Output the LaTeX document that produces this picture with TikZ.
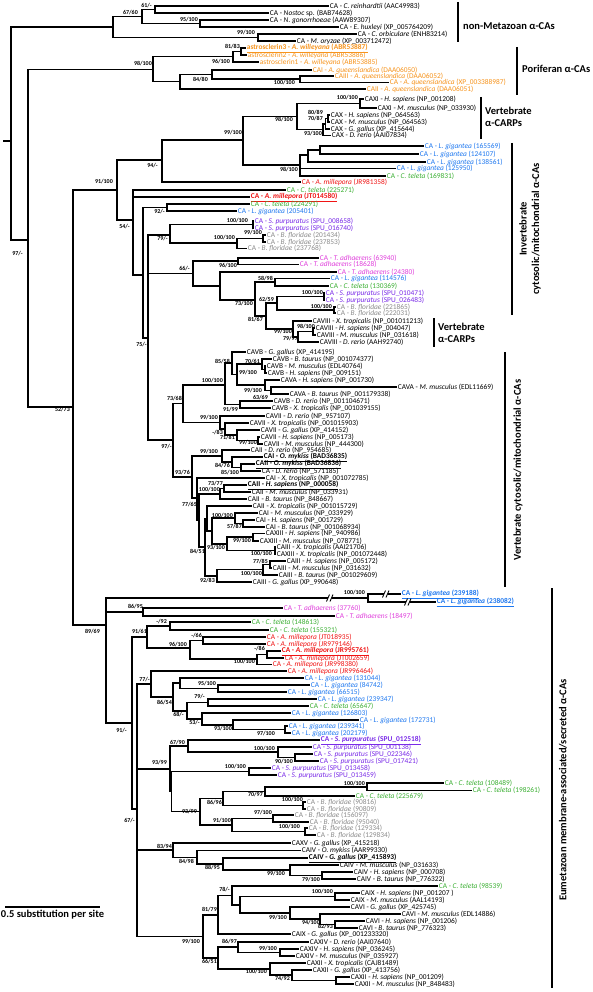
\documentclass[tikz,border=0pt]{standalone}
\usepackage{fontspec}
\setmainfont{Carlito}
\definecolor{cor}{HTML}{F7941D}
\definecolor{cbl}{HTML}{1E78F0}
\definecolor{cgr}{HTML}{3CB034}
\definecolor{crd}{HTML}{F01414}
\definecolor{cpu}{HTML}{7A2BE8}
\definecolor{cgy}{HTML}{8C8C8C}
\definecolor{cmg}{HTML}{E040DC}
\newcounter{bsc}
\tikzset{
  br/.style={line width=1.25pt},
  lab/.style={font=\fontsize{7.4}{8}\selectfont, inner sep=0.7pt},
  bsl/.style={font=\bfseries\fontsize{6}{7}\selectfont, inner sep=0pt},
  clab/.style={font=\bfseries\fontsize{10.5}{12.5}\selectfont, inner sep=0pt},
  cbar/.style={line width=2.6pt}
}
\newcommand\IN[4]{\coordinate (#1) at (#3,#4); \draw[br] (#2) |- (#1);}
\newcommand\LF[6]{\node[lab,text=#5,anchor=west] (#1) at (#3,#4) {#6}; \draw[br] (#2) |- (#1.west);}
\newcommand\bs[3]{\stepcounter{bsc}\node[bsl,anchor=east] (bs\arabic{bsc}) at (#1,#2) {#3};}
\newcommand\brk[3]{\coordinate (#1) at (#2,#3);
  \fill[white] ([xshift=-1.2pt,yshift=-1.5pt]#1) rectangle ([xshift=2.8pt,yshift=1.5pt]#1);
  \draw[line width=0.9pt] ([xshift=-2.5pt,yshift=-3.5pt]#1) -- ([xshift=0.5pt,yshift=3.5pt]#1);
  \draw[line width=0.9pt] ([xshift=1pt,yshift=-3.5pt]#1) -- ([xshift=4pt,yshift=3.5pt]#1);}
\begin{document}
\begin{tikzpicture}[x=1pt,y=-1pt]
\fill[white] (0,0) rectangle (592,992);
\useasboundingbox (0,0) rectangle (592,992);
% root
\coordinate (R) at (11,141); \coordinate (R0) at (3,141); \draw[br] (R0) -- (R);
% non-metazoan
\IN{NM}{R}{113}{27}
\IN{N1}{NM}{142}{16.5}
\IN{N2}{N1}{155}{9.5}
\LF{l1}{N2}{329}{6}{black}{CA - \textit{C. reinhardtii} (AAC49983)}
\LF{l2}{N2}{269}{13}{black}{CA - \textit{Nostoc} sp. (BAB74628)}
\IN{N3}{N1}{200}{23.5}
\LF{l3}{N3}{269}{20}{black}{CA - \textit{N. gonorrhoeae} (AAW89307)}
\LF{l4}{N3}{339}{27}{black}{CA - \textit{E. huxleyi} (XP\_005764209)}
\IN{N4}{NM}{258}{37.5}
\LF{l5}{N4}{357}{34}{black}{CA - \textit{C. orbiculare} (ENH83214)}
\LF{l6}{N4}{296}{41}{black}{CA - \textit{M. oryzae} (XP\_003712472)}
% poriferan
\IN{A}{R}{28}{240}
\IN{P}{A}{153}{69.25}
\IN{AS}{P}{233}{56.75}
\IN{AS2}{AS}{241}{51.5}
\LF{l7}{AS2}{246}{48}{cor}{\bfseries\underline{astrosclerin3 - \textit{A. willeyana} (ABR53887)}}
\LF{l8}{AS2}{247}{55}{cor}{astrosclerin2 - \textit{A. willeyana} (ABR53886)}
\LF{l9}{AS}{259}{62}{cor}{astrosclerin1 - \textit{A. willeyana} (ABR53885)}
\IN{Q}{P}{180}{81.75}
\IN{Q1}{Q}{212}{74.5}
\LF{l10}{Q1}{312}{70}{cor}{CAI - \textit{A. queenslandica} (DAA06050)}
\IN{Q2}{Q1}{300}{79}
\LF{l11}{Q2}{334}{76}{cor}{CAIII - \textit{A. queenslandica} (DAA06052)}
\LF{l12}{Q2}{389}{82.5}{cor}{CA - \textit{A. queenslandica} (XP\_003388987)}
\LF{l13}{Q}{366}{89}{cor}{CAII - \textit{A. queenslandica} (DAA06051)}
% CARPs and invertebrates
\IN{B}{A}{73}{407}
\IN{C}{B}{117}{190}
\IN{D}{C}{162}{160}
\IN{CR}{D}{243}{140}
\IN{CX}{CR}{297}{116.5}
\IN{CXI}{CX}{360}{103.5}
\LF{l14}{CXI}{364}{99}{black}{CAXI - \textit{H. sapiens} (NP\_001208)}
\LF{l15}{CXI}{377}{108}{black}{CAXI - \textit{M. musculus} (NP\_033930)}
\IN{CX10}{CX}{323}{129.5}
\IN{C87}{CX10}{325.5}{124}
\IN{C89}{C87}{328}{118.5}
\LF{l16}{C89}{330}{115}{black}{CAX - \textit{H. sapiens} (NP\_064563)}
\LF{l17}{C89}{330}{122}{black}{CAX - \textit{M. musculus} (NP\_064563)}
\LF{l18}{C87}{330}{129}{black}{CAX - \textit{G. gallus} (XP\_415644)}
\LF{l19}{CX10}{331}{135.5}{black}{CAX - \textit{D. rerio} (AAI07834)}
\IN{LG}{CR}{300}{165}
\IN{LGa}{LG}{308}{155}
\IN{LGb}{LGa}{320}{150}
\LF{l20}{LGb}{424}{146}{cbl}{CA - \textit{L. gigantea} (165569)}
\LF{l21}{LGb}{419}{154}{cbl}{CA - \textit{L. gigantea} (124107)}
\LF{l22}{LGa}{426}{162}{cbl}{CA - \textit{L. gigantea} (138561)}
\LF{l23}{LG}{396}{168.5}{cbl}{CA - \textit{L. gigantea} (125950)}
\LF{l24}{LG}{386}{176}{cgr}{CA - \textit{C. teleta} (169831)}
\LF{l25}{D}{301}{182}{crd}{CA - \textit{A. millepora} (JR981358)}
\IN{F}{C}{133}{220}
\LF{l26}{F}{286}{190}{cgr}{CA - \textit{C. teleta} (225271)}
\LF{l27}{F}{250}{197}{crd}{\bfseries\underline{CA - \textit{A. millepora} (JT014580)}}
\IN{G}{F}{143}{275}
\IN{G1}{G}{167}{207.5}
\LF{l28}{G1}{250}{204}{cgr}{CA - \textit{C. teleta} (224291)}
\LF{l29}{G1}{237}{211}{cbl}{CA - \textit{L. gigantea} (205401)}
\IN{H}{G}{148}{338}
\IN{H1}{H}{170}{235}
\IN{S1}{H1}{253}{224.5}
\LF{l30}{S1}{254}{221}{cpu}{CA - \textit{S. purpuratus} (SPU\_008658)}
\LF{l31}{S1}{254}{228}{cpu}{CA - \textit{S. purpuratus} (SPU\_016740)}
\IN{B1}{H1}{237}{243}
\IN{B2}{B1}{263}{238.5}
\LF{l32}{B2}{266}{235}{cgy}{CA - \textit{B. floridae} (201434)}
\LF{l33}{B2}{266}{242}{cgy}{CA - \textit{B. floridae} (237853)}
\LF{l34}{B1}{247}{248.5}{cgy}{CA - \textit{B. floridae} (237768)}
\IN{H66}{H}{193}{273.5}
\IN{T1}{H66}{238}{261}
\LF{l35}{T1}{319}{258}{cmg}{CA - \textit{T. adhaerens} (63940)}
\LF{l36}{T1}{299}{264.5}{cmg}{CA - \textit{T. adhaerens} (18628)}
\IN{T2}{H66}{220}{286}
\LF{l37}{T2}{337}{272}{cmg}{CA - \textit{T. adhaerens} (24380)}
\IN{T3}{T2}{255}{300}
\IN{T4}{T3}{275}{282}
\LF{l38}{T4}{330}{278.5}{cbl}{CA - \textit{L. gigantea} (114576)}
\LF{l39}{T4}{329}{286}{cgr}{CA - \textit{C. teleta} (130369)}
\IN{T5}{T3}{266}{316}
\IN{T6}{T5}{277}{303}
\IN{S2}{T6}{324}{296.5}
\LF{l40}{S2}{325}{293}{cpu}{CA - \textit{S. purpuratus} (SPU\_010471)}
\LF{l41}{S2}{325}{300}{cpu}{CA - \textit{S. purpuratus} (SPU\_026483)}
\IN{B3}{T6}{334}{310}
\LF{l42}{B3}{336}{307}{cgy}{CA - \textit{B. floridae} (221865)}
\LF{l43}{B3}{336}{313}{cgy}{CA - \textit{B. floridae} (222031)}
\IN{T7}{T5}{293}{329}
\LF{l44}{T7}{312}{321}{black}{CAVIII - \textit{X. tropicalis} (NP\_001011213)}
\IN{T8}{T7}{298}{337}
\IN{T9}{T8}{313}{331.5}
\LF{l45}{T9}{315}{328}{black}{CAVIII - \textit{H. sapiens} (NP\_004047)}
\LF{l46}{T9}{316}{335}{black}{CAVIII - \textit{M. musculus} (NP\_031618)}
\LF{l47}{T8}{319}{342}{black}{CAVIII - \textit{D. rerio} (AAH92740)}
% vertebrate cytosolic
\IN{H2}{H}{173}{440}
\IN{V}{H2}{183}{403.75}
\IN{V5}{V}{225}{385}
\IN{V6}{V5}{232}{363}
\LF{l48}{V6}{246}{352}{black}{CAVB - \textit{G. gallus} (XP\_414195)}
\IN{V8}{V6}{237}{374.5}
\IN{V9}{V8}{262}{364}
\LF{l49}{V9}{272}{359}{black}{CAVB - \textit{B. taurus} (NP\_001074377)}
\IN{V9b}{V9}{265}{369.5}
\LF{l50}{V9b}{266}{366}{black}{CAVB - \textit{M. musculus} (EDL40764)}
\LF{l51}{V9b}{267}{373}{black}{CAVB - \textit{H. sapiens} (NP\_009151)}
\IN{VA1}{V8}{265}{385}
\LF{l52}{VA1}{280}{380}{black}{CAVA - \textit{H. sapiens} (NP\_001730)}
\IN{VA2}{VA1}{271}{390.5}
\LF{l53}{VA2}{397}{387}{black}{CAVA - \textit{M. musculus} (EDL11669)}
\LF{l54}{VA2}{289}{394}{black}{CAVA - \textit{B. taurus} (NP\_001179338)}
\IN{V7b}{V5}{240}{404.5}
\LF{l55}{V7b}{273}{401}{black}{CAVB - \textit{D. rerio} (NP\_001104671)}
\LF{l56}{V7b}{271}{408}{black}{CAVB - \textit{X. tropicalis} (NP\_001039155)}
\IN{V7}{V}{220}{422.5}
\LF{l57}{V7}{265}{416}{black}{CAVII - \textit{D. rerio} (NP\_957107)}
\IN{V83}{V7}{225}{429}
\LF{l58}{V83}{249}{423}{black}{CAVII - \textit{X. tropicalis} (NP\_001015903)}
\IN{V71}{V83}{237}{435}
\LF{l59}{V71}{260}{430}{black}{CAVII - \textit{G. gallus} (XP\_414152)}
\IN{V99}{V71}{258}{440.5}
\LF{l60}{V99}{260}{437}{black}{CAVII - \textit{H. sapiens} (NP\_005173)}
\LF{l61}{V99}{263}{444}{black}{CAVII - \textit{M. musculus} (NP\_444300)}
\IN{W}{H2}{192}{477}
\IN{W1}{W}{222}{456}
\LF{l62}{W1}{250}{450}{black}{CAII - \textit{D. rerio} (NP\_954685)}
\IN{W3}{W1}{232}{462}
\LF{l63}{W3}{263}{457}{black}{\bfseries\underline{CAI - \textit{O. mykiss} (BAD36835)}}
\IN{W4}{W3}{241}{467.5}
\LF{l64}{W4}{255}{464}{black}{\bfseries\underline{CAII - \textit{O. mykiss} (BAD36836)}}
\LF{l65}{W4}{261}{471}{black}{CA - \textit{D. rerio} (NP\_571185)}
\IN{W2}{W}{197}{498}
\LF{l66}{W2}{265}{478}{black}{CAI - \textit{X. tropicalis} (NP\_001072785)}
\IN{W2b}{W2}{199}{520.5}
\IN{C2a}{W2b}{220}{494}
\IN{C77}{C2a}{224}{488.5}
\LF{l67}{C77}{247}{485}{black}{\bfseries\underline{CAII - \textit{H. sapiens} (NP\_000058)}}
\LF{l68}{C77}{251}{492}{black}{CAII - \textit{M. musculus} (NP\_033931)}
\LF{l69}{C2a}{247}{499}{black}{CAII - \textit{B. taurus} (NP\_848667)}
\IN{C3}{W2b}{205}{547}
\IN{C3a}{C3}{207}{518.5}
\LF{l70}{C3a}{252}{506}{black}{CAII - \textit{X. tropicalis} (NP\_001015729)}
\IN{NI}{C3a}{212}{531}
\IN{CAI}{NI}{235}{518}
\LF{l71}{CAI}{258}{513}{black}{CAI - \textit{M. musculus} (NP\_033929)}
\IN{C57}{CAI}{243}{523.5}
\LF{l72}{C57}{255}{520}{black}{CAI - \textit{H. sapiens} (NP\_001729)}
\LF{l73}{C57}{265}{527}{black}{CAI - \textit{B. taurus} (NP\_001068934)}
\IN{N93}{NI}{227}{544}
\IN{N99}{N93}{253}{537}
\LF{l74}{N99}{265}{533.5}{black}{CAXIII - \textit{H. sapiens} (NP\_940986)}
\LF{l75}{N99}{259}{541}{black}{CAXIII - \textit{M. musculus} (NP\_078771)}
\IN{N100}{N93}{275}{550.5}
\LF{l76}{N100}{276}{547}{black}{CAIII - \textit{X. tropicalis} (AAI21706)}
\LF{l77}{N100}{276}{554}{black}{CAXIII - \textit{X. tropicalis} (NP\_001072448)}
\IN{N92}{C3}{217}{576}
\IN{N3100}{N92}{263}{569.75}
\IN{N7785}{N3100}{270}{564.5}
\LF{l78}{N7785}{286}{561}{black}{CAIII - \textit{H. sapiens} (NP\_005172)}
\LF{l79}{N7785}{272}{568}{black}{CAIII - \textit{M. musculus} (NP\_031632)}
\LF{l80}{N3100}{278}{575}{black}{CAIII - \textit{B. taurus} (NP\_001029609)}
\LF{l81}{N92}{252}{582}{black}{CAIII - \textit{G. gallus} (XP\_990648)}
% eumetazoan
\IN{E}{B}{106}{625}
\IN{LG2}{E}{368}{598}
\LF{l82}{LG2}{401}{594}{cbl}{\bfseries\underline{CA - \textit{L. gigantea} (239188)}}
\LF{l83}{LG2}{436}{602}{cbl}{\bfseries\underline{CA - \textit{L. gigantea} (238082)}}
\brk{k1}{329}{598}
\brk{k2}{385}{594}
\brk{k3}{407}{602}
\IN{TA}{E}{143}{612}
\LF{l84}{TA}{283}{608}{cmg}{CA - \textit{T. adhaerens} (37760)}
\LF{l85}{TA}{335}{616}{cmg}{CA - \textit{T. adhaerens} (18497)}
\IN{N91}{E}{132}{723}
\IN{N9161}{N91}{147}{637}
\IN{N92b}{N9161}{170}{626}
\LF{l86}{N92b}{251}{622}{cgr}{CA - \textit{C. teleta} (148613)}
\LF{l87}{N92b}{269}{630}{cgr}{CA - \textit{C. teleta} (155321)}
\IN{AM}{N9161}{190}{648}
\IN{AM1}{AM}{203}{640.5}
\LF{l88}{AM1}{266}{637}{crd}{CA - \textit{A. millepora} (JT018935)}
\LF{l89}{AM1}{266}{644}{crd}{CA - \textit{A. millepora} (JR979146)}
\IN{AM2}{AM}{257}{659}
\IN{AM3}{AM2}{267}{654.5}
\LF{l90}{AM3}{281}{651}{crd}{\bfseries\underline{CA - \textit{A. millepora} (JR995761)}}
\LF{l91}{AM3}{284}{658}{crd}{CA - \textit{A. millepora} (JT002659)}
\LF{l92}{AM2}{272}{664.5}{crd}{CA - \textit{A. millepora} (JR998380)}
\IN{N67}{N91}{137}{809}
\IN{N77}{N67}{151}{684}
\LF{l93}{N77}{287}{671}{crd}{CA - \textit{A. millepora} (JR996464)}
\IN{N86}{N77}{173}{697}
\IN{N86a}{N86}{180}{683}
\LF{l94}{N86a}{304}{678}{cbl}{CA - \textit{L. gigantea} (131044)}
\IN{N95}{N86a}{218}{688.5}
\LF{l95}{N95}{310}{685}{cbl}{CA - \textit{L. gigantea} (84742)}
\LF{l96}{N95}{287}{692}{cbl}{CA - \textit{L. gigantea} (66515)}
\IN{N68}{N86}{187}{711}
\IN{N79}{N68}{208}{702.5}
\LF{l97}{N79}{317}{699}{cbl}{CA - \textit{L. gigantea} (239347)}
\LF{l98}{N79}{309}{706}{cgr}{CA - \textit{C. teleta} (65647)}
\IN{N53}{N68}{202}{719}
\LF{l99}{N53}{291}{713}{cbl}{CA - \textit{L. gigantea} (126803)}
\IN{N93b}{N53}{233}{725}
\LF{l100}{N93b}{359}{720}{cbl}{CA - \textit{L. gigantea} (172731)}
\IN{N97}{N93b}{285}{729.5}
\LF{l101}{N97}{288}{726}{cbl}{CA - \textit{L. gigantea} (239341)}
\LF{l102}{N97}{291}{733}{cbl}{CA - \textit{L. gigantea} (202179)}
\IN{N9399}{N67}{170}{769}
\IN{N6790}{N9399}{188}{746}
\LF{l103}{N6790}{320}{740}{cpu}{\bfseries\underline{CA - \textit{S. purpuratus} (SPU\_012518)}}
\IN{NS1}{N6790}{278}{752}
\LF{l104}{NS1}{312}{747}{cpu}{CA - \textit{S. purpuratus} (SPU\_001138)}
\IN{NS2}{NS1}{295}{757.5}
\LF{l105}{NS2}{313}{754}{cpu}{CA - \textit{S. purpuratus} (SPU\_022346)}
\LF{l106}{NS2}{319}{761}{cpu}{CA - \textit{S. purpuratus} (SPU\_017421)}
\IN{NX}{N9399}{171.5}{791.6}
\IN{NS3}{NX}{249}{771.5}
\LF{l107}{NS3}{271}{768}{cpu}{CA - \textit{S. purpuratus} (SPU\_013458)}
\LF{l108}{NS3}{277}{775}{cpu}{CA - \textit{S. purpuratus} (SPU\_013459)}
\IN{N9399b}{NX}{200}{811.75}
\IN{N8696}{N9399b}{223}{798.5}
\IN{N7097}{N8696}{265}{791.5}
\IN{CT1}{N7097}{367}{787}
\LF{l109}{CT1}{444}{783}{cgr}{CA - \textit{C. teleta} (108489)}
\LF{l110}{CT1}{472}{790.5}{cgr}{CA - \textit{C. teleta} (198261)}
\LF{l111}{N7097}{355}{796}{cgr}{CA - \textit{C. teleta} (225679)}
\IN{BF1}{N8696}{303}{805.5}
\LF{l112}{BF1}{306}{802}{cgy}{CA - \textit{B. floridae} (90816)}
\LF{l113}{BF1}{306}{809}{cgy}{CA - \textit{B. floridae} (90809)}
\IN{N91b}{N9399b}{232}{825}
\IN{N97b}{N91b}{273}{818.5}
\LF{l114}{N97b}{294}{815}{cgy}{CA - \textit{B. floridae} (156097)}
\LF{l115}{N97b}{309}{822}{cgy}{CA - \textit{B. floridae} (95040)}
\IN{BF3}{N91b}{305}{831.5}
\LF{l116}{BF3}{308}{828}{cgy}{CA - \textit{B. floridae} (129334)}
\LF{l117}{BF3}{316}{835}{cgy}{CA - \textit{B. floridae} (129834)}
\IN{N83}{N67}{173}{850}
\LF{l118}{N83}{291}{843}{black}{CAXV - \textit{G. gallus} (XP\_415218)}
\IN{N84}{N83}{197}{857.5}
\LF{l119}{N84}{301}{850.5}{black}{CAIV - \textit{O. mykiss} (AAR99330)}
\IN{N88}{N84}{223}{864}
\LF{l120}{N88}{308}{858}{black}{\bfseries\underline{CAIV - \textit{G. gallus} (XP\_415893)}}
\IN{N99c}{N88}{290}{870}
\LF{l121}{N99c}{339}{865}{black}{CAIV - \textit{M. musculus} (NP\_031633)}
\IN{N79c}{N99c}{322}{875.5}
\LF{l122}{N79c}{353}{872}{black}{CAIV - \textit{H. sapiens} (NP\_000708)}
\LF{l123}{N79c}{356}{879}{black}{CAIV - \textit{B. taurus} (NP\_776322)}
\IN{N9910}{N67}{203}{936.5}
\IN{N8179}{N9910}{218}{915}
\IN{N78}{N8179}{232}{895.5}
\LF{l124}{N78}{438}{886}{cgr}{CA - \textit{C. teleta} (98539)}
\IN{N240}{N78}{240}{905}
\IN{NIX}{N240}{335}{896.5}
\LF{l125}{NIX}{360}{893}{black}{CAIX - \textit{H. sapiens} (NP\_001207 )}
\LF{l126}{NIX}{350}{900}{black}{CAIX - \textit{M. musculus} (AAL14193)}
\IN{NVI}{N240}{290}{913}
\LF{l127}{NVI}{350}{907}{black}{CAVI - \textit{G. gallus} (XP\_425745)}
\IN{NVI2}{NVI}{320}{919}
\LF{l128}{NVI2}{401}{914}{black}{CAVI - \textit{M. musculus} (EDL14886)}
\IN{NVI3}{NVI2}{335}{924.5}
\LF{l129}{NVI3}{365}{921}{black}{CAVI - \textit{H. sapiens} (NP\_001206)}
\LF{l130}{NVI3}{358}{928}{black}{CAVI - \textit{B. taurus} (NP\_776323)}
\LF{l131}{N8179}{291}{934}{black}{CAIX - \textit{G. gallus} (XP\_001233320)}
\IN{N6651}{N9910}{218}{958}
\IN{N8697}{N6651}{238}{947}
\LF{l132}{N8697}{309}{942}{black}{CAXIV - \textit{D. rerio} (AAI07640)}
\IN{NXIV}{N8697}{280}{952.5}
\LF{l133}{NXIV}{299}{949}{black}{CAXIV - \textit{H. sapiens} (NP\_036245)}
\LF{l134}{NXIV}{295}{956}{black}{CAXIV - \textit{M. musculus} (NP\_035927)}
\IN{NXII}{N6651}{270}{969}
\LF{l135}{NXII}{306}{963}{black}{CAXII - \textit{X. tropicalis} (CAJ81489)}
\IN{N7492}{NXII}{292}{975}
\LF{l136}{N7492}{312}{970}{black}{CAXII - \textit{G. gallus} (XP\_413756)}
\IN{NXII2}{N7492}{336}{980.5}
\LF{l137}{NXII2}{350}{977}{black}{CAXII - \textit{H. sapiens} (NP\_001209)}
\LF{l138}{NXII2}{354}{984}{black}{CAXII - \textit{M. musculus} (NP\_848483)}
% bootstrap values
\bs{152}{6}{61/-}
\bs{138}{13}{67/60}
\bs{198}{20}{95/100}
\bs{255}{33}{99/100}
\bs{240}{47}{81/83}
\bs{230}{62}{96/100}
\bs{152}{64}{98/100}
\bs{208}{80}{84/80}
\bs{295}{83}{100/100}
\bs{358}{98}{100/100}
\bs{323}{113}{80/89}
\bs{323}{118.5}{70/87}
\bs{293}{120}{98/100}
\bs{322}{134}{93/100}
\bs{242}{133}{99/100}
\bs{158}{166}{94/-}
\bs{298}{170}{98/100}
\bs{113}{182}{91/100}
\bs{165}{212}{92/-}
\bs{130}{227}{54/-}
\bs{248}{221}{100/100}
\bs{262}{233}{99/100}
\bs{235}{238}{100/100}
\bs{168}{239}{79/-}
\bs{23}{254}{97/-}
\bs{237}{266}{96/100}
\bs{190}{269}{66/-}
\bs{273}{279}{58/98}
\bs{323}{293}{100/100}
\bs{274}{300}{62/59}
\bs{253}{304}{73/100}
\bs{332}{307}{100/100}
\bs{263}{320}{81/67}
\bs{315}{327}{98/100}
\bs{292}{332}{99/100}
\bs{298}{339}{79/97}
\bs{147}{345}{75/-}
\bs{230}{362}{85/58}
\bs{260}{362}{70/61}
\bs{257}{373}{99/100}
\bs{223}{381}{100/100}
\bs{262}{391}{99/100}
\bs{268}{398}{63/69}
\bs{70}{410}{52/73}
\bs{182}{399}{73/68}
\bs{238}{410}{91/99}
\bs{218}{418}{99/100}
\bs{223}{433}{-/83}
\bs{235}{438}{71/81}
\bs{257}{443}{99/100}
\bs{172}{447}{97/-}
\bs{218}{452}{99/100}
\bs{230}{466}{84/76}
\bs{239}{473}{85/100}
\bs{190}{473}{93/76}
\bs{223}{484}{73/77}
\bs{220}{490}{100/100}
\bs{197}{505}{77/65}
\bs{233}{516}{100/100}
\bs{242}{527}{57/87}
\bs{251}{541}{99/100}
\bs{225}{548}{93/100}
\bs{205}{552}{84/51}
\bs{272}{554}{100/100}
\bs{268}{562}{77/85}
\bs{262}{574}{100/100}
\bs{215}{581}{92/83}
\bs{365}{593}{100/100}
\bs{143}{607}{86/95}
\bs{167}{622}{-/92}
\bs{100}{632}{89/69}
\bs{147}{632}{91/61}
\bs{202}{636}{-/66}
\bs{187}{645}{96/100}
\bs{265}{649}{-/86}
\bs{255}{662}{100/100}
\bs{150}{680}{77/-}
\bs{216}{684}{95/100}
\bs{205}{697}{79/-}
\bs{172}{703}{86/54}
\bs{184}{715}{68/-}
\bs{200}{723}{53/-}
\bs{232}{729}{93/100}
\bs{127}{731}{91/-}
\bs{275}{734}{97/100}
\bs{185}{743}{67/90}
\bs{275}{749}{100/100}
\bs{293}{762}{90/100}
\bs{167}{763}{93/99}
\bs{246}{767}{100/100}
\bs{365}{784}{100/100}
\bs{263}{795}{70/97}
\bs{303}{800}{100/100}
\bs{222}{803}{86/96}
\bs{197}{812}{93/99}
\bs{272}{813}{97/100}
\bs{135}{821}{67/-}
\bs{231}{821}{91/100}
\bs{300}{827}{100/100}
\bs{172}{847}{83/94}
\bs{194}{862}{84/98}
\bs{220}{868}{88/95}
\bs{285}{874}{99/100}
\bs{320}{880}{79/100}
\bs{230}{890}{78/-}
\bs{333}{892}{100/100}
\bs{217}{910}{81/79}
\bs{287}{918}{99/100}
\bs{320}{923}{94/100}
\bs{333}{927}{82/93}
\bs{200}{942}{99/100}
\bs{237}{942}{86/97}
\bs{277}{949}{99/100}
\bs{217}{962}{66/51}
\bs{267}{972}{100/100}
\bs{290}{979}{74/92}
% clade bars and labels
\coordinate (c1a) at (458,2); \coordinate (c1b) at (458,42); \draw[cbar] (c1a) -- (c1b);
\node[clab,anchor=west] (cl1) at (463,26) {non-Metazoan α-CAs};
\coordinate (c2a) at (517,47); \coordinate (c2b) at (517,95); \draw[cbar] (c2a) -- (c2b);
\node[clab,anchor=west] (cl2) at (522,69) {Poriferan α-CAs};
\coordinate (c3a) at (481,97); \coordinate (c3b) at (481,139); \draw[cbar] (c3a) -- (c3b);
\node[clab,anchor=west,align=left] (cl3) at (485,117) {Vertebrate\\α-CARPs};
\coordinate (c4a) at (512,143); \coordinate (c4b) at (512,315); \draw[cbar] (c4a) -- (c4b);
\node[clab,rotate=90,align=center] (cl4) at (530,229) {Invertebrate\\cytosolic/mitochondrial α-CAs};
\coordinate (c5a) at (434,318); \coordinate (c5b) at (434,347); \draw[cbar] (c5a) -- (c5b);
\node[clab,anchor=west,align=left] (cl5) at (438,333) {Vertebrate\\α-CARPs};
\coordinate (c6a) at (505,352); \coordinate (c6b) at (505,587); \draw[cbar] (c6a) -- (c6b);
\node[clab,rotate=90] (cl6) at (518,470) {Vertebrate cytosolic/mitochondrial α-CAs};
\coordinate (c7a) at (552,588); \coordinate (c7b) at (552,988); \draw[cbar] (c7a) -- (c7b);
\node[clab,rotate=90] (cl7) at (563,790) {Eumetazoan membrane-associated/secreted α-CAs};
% scale bar
\coordinate (sb1) at (5,907); \coordinate (sb2) at (100,907); \draw[line width=1.1pt] (sb1) -- (sb2);
\node[clab,anchor=north] (sbt) at (52.5,910) {0.5 substitution per site};
\end{tikzpicture}
\end{document}
